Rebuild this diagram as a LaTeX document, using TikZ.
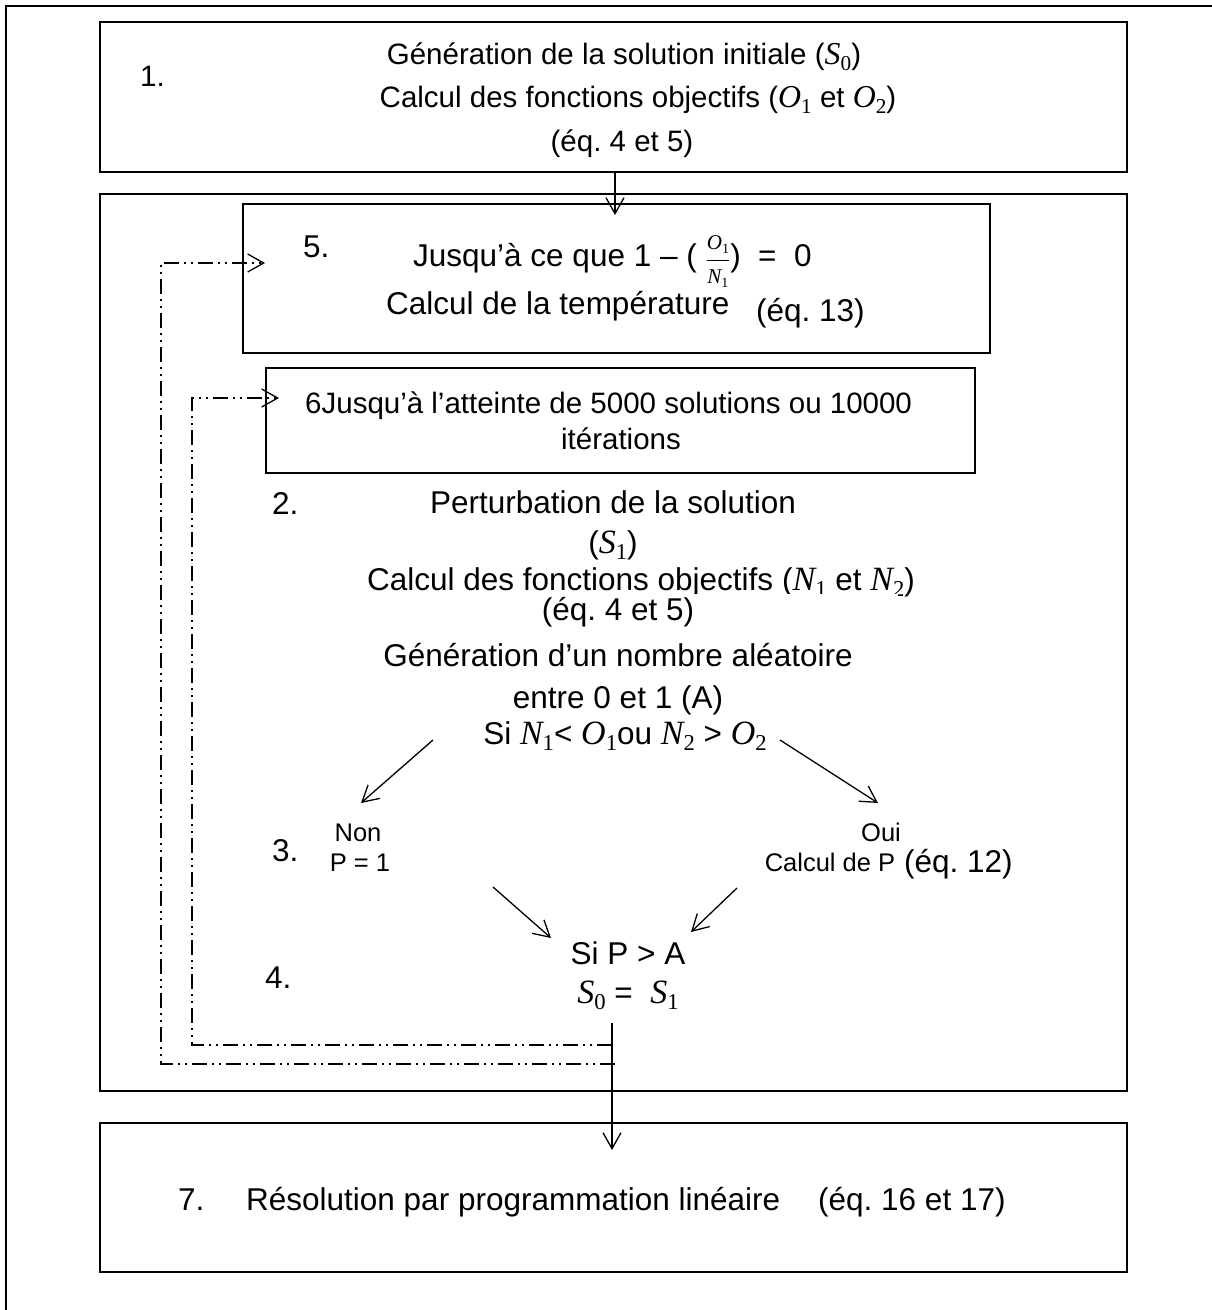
\documentclass[tikz,border=0pt]{standalone}
\usepackage{fontspec}
\setmainfont{Liberation Sans}
\newfontfamily\mathserif{Liberation Serif}
\usetikzlibrary{arrows.meta}
\frenchspacing
% italic variable with an upright, lowered subscript index
\newcommand\mv[2]{{\mathserif\itshape\scalebox{1.08}{#1}}\raisebox{-0.22em}{\scalebox{0.72}{\mathserif #2}}}
% small stacked fraction of two variables
\newcommand\ratio[2]{$\displaystyle{\hbox{\fontsize{19.5}{21}\selectfont #1}\over\hbox{\fontsize{19.5}{21}\selectfont #2}}$}

\begin{document}
\begin{tikzpicture}[x=1pt,y=-1pt,
  frame/.style={draw,line width=2pt,inner sep=0,outer sep=0,anchor=north west},
  txt/.style={inner sep=0,font=\fontsize{31.5}{36}\selectfont},
  txtb/.style={inner sep=0,font=\fontsize{29.5}{34}\selectfont},
  small/.style={inner sep=0,font=\fontsize{25.5}{30}\selectfont},
  flow/.style={line width=1.3pt,-{Straight Barb[length=16pt,width=18pt,line width=1.3pt]}},
  loopline/.style={line width=1.4pt,dash pattern=on 15pt off 5pt on 2pt off 5pt on 2pt off 5pt,
    -{Straight Barb[length=16pt,width=18pt,line width=1.3pt]}}]

\useasboundingbox (0,0) rectangle (1212,1310);

% page border (top and left edges only)
\draw[line width=2pt] (1212,6) -- (6,6) -- (6,1310);

% boxes
\node[frame,minimum width=1027pt,minimum height=150pt] (b1) at (100,22) {};
\node[frame,minimum width=1027pt,minimum height=897pt] (loopbox) at (100,194) {};
\node[frame,minimum width=747pt,minimum height=149pt] (b5) at (243,204) {};
\node[frame,minimum width=709pt,minimum height=105pt] (b6) at (266,368) {};
\node[frame,minimum width=1027pt,minimum height=149pt] (b7) at (100,1123) {};

% step 1
\node[txtb,anchor=base west] (n1) at (140,86) {1.};
\node[txtb,anchor=base] (t1a) at (624,64) {Génération de la solution initiale (\mv{S}{0})};
\node[txtb,anchor=base] (t1b) at (638,107) {Calcul des fonctions objectifs (\mv{O}{1} et \mv{O}{2})};
\node[txtb,anchor=base] (t1c) at (622,151) {(éq. 4 et 5)};

% step 5
\node[txt,anchor=base west] (n5) at (303,257) {5.};
\node[txt,anchor=base west] (t5a) at (413,266) {Jusqu’à ce que 1 – ( \ratio{\mv{O}{1}}{\mv{N}{1}})\ \ =\ \ 0};
\node[txt,anchor=base west] (t5b) at (386,314) {Calcul de la température};
\node[txt,anchor=base west] (t5c) at (756,321) {(éq. 13)};

% step 6
\node[txtb,anchor=base west] (t6a) at (305,413) {6Jusqu’à l’atteinte de 5000 solutions ou 10000};
\node[txtb,anchor=base] (t6b) at (621,449) {itérations};

% step 2
\node[txt,anchor=base west] (n2) at (272,514) {2.};
\node[txt,anchor=base] (t2a) at (613,513) {Perturbation de la solution};
\node[txt,anchor=base] (t2b) at (613,553) {(\mv{S}{1})};
\node[txt,anchor=base] (t2c) at (641,590) {Calcul des fonctions objectifs (\mv{N}{1} et \mv{N}{2})};
\node[txt,fill=white,minimum width=560pt,minimum height=36pt] (t2d) at (618,612) {(éq. 4 et 5)};
\node[txt,anchor=base] (t2e) at (618,666) {Génération d’un nombre aléatoire};
\node[txt,anchor=base] (t2f) at (618,708) {entre 0 et 1 (A)};
\node[txt,anchor=base] (t2g) at (625,744) {Si \mv{N}{1}< \mv{O}{1}ou \mv{N}{2} > \mv{O}{2}};

% step 3
\node[txt,anchor=base west] (n3) at (272,861) {3.};
\node[small,anchor=base] (non) at (358,841) {Non};
\node[small,anchor=base] (pone) at (360,871) {P = 1};
\node[small,anchor=base] (oui) at (881,841) {Oui};
\node[small,anchor=base] (calp) at (830,871) {Calcul de P};
\node[txt,anchor=base west] (eq12) at (904,872) {(éq. 12)};

% step 4
\node[txt,anchor=base west] (n4) at (265,988) {4.};
\node[txt,anchor=base] (t4a) at (628,964) {Si P > A};
\node[txt,anchor=base] (t4b) at (628,1003) {\mv{S}{0} =\ \ \mv{S}{1}};

% step 7
\node[txt,anchor=base west] (n7) at (178,1210) {7.};
\node[txt,anchor=base west] (t7a) at (246,1210) {Résolution par programmation linéaire};
\node[txt,anchor=base west] (t7b) at (818,1210) {(éq. 16 et 17)};

% connector end points
\coordinate (c1s) at (615,172);
\coordinate (c5in) at (615,215);
\coordinate (bl) at (433,740);
\coordinate (blend) at (361,803);
\coordinate (br) at (780,740);
\coordinate (brend) at (878,803);
\coordinate (nl) at (493,887);
\coordinate (nlend) at (551,938);
\coordinate (nr) at (737,888);
\coordinate (nrend) at (691,932);
\coordinate (s4) at (612,1023);
\coordinate (s7) at (612,1150);
\coordinate (lo) at (615,1064);
\coordinate (li) at (612,1045);
\coordinate (lo5) at (265,263);
\coordinate (li6) at (279,398);

% solid connectors
\draw[flow] (c1s) -- (c5in);
\draw[flow] (bl) -- (blend);
\draw[flow] (br) -- (brend);
\draw[flow] (nl) -- (nlend);
\draw[flow] (nr) -- (nrend);
\draw[flow] (s4) -- (s7);

% return loops
\draw[loopline] (lo) -- (161,1064) -- (161,263) -- (lo5);
\draw[loopline] (li) -- (192,1045) -- (192,398) -- (li6);

\end{tikzpicture}
\end{document}
